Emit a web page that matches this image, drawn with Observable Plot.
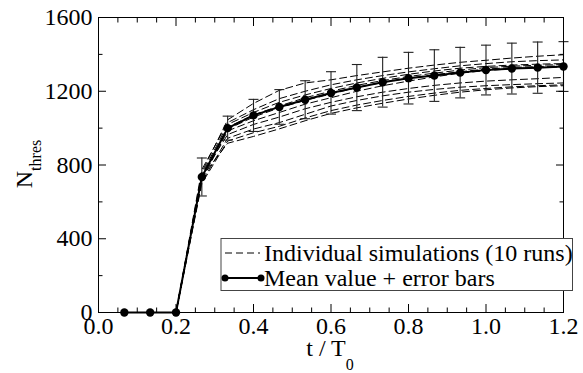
<!DOCTYPE html>
<html><head><meta charset="utf-8">
<script src="https://cdn.jsdelivr.net/npm/d3@7"></script>
<script src="https://cdn.jsdelivr.net/npm/@observablehq/plot@0.6"></script>
<style>body{margin:0;background:#fff} svg{display:block}</style>
</head><body><div id="chart"></div>
<script>
// time points t / T0
const tValues = [0.0667, 0.1333, 0.2, 0.2667, 0.3333, 0.4, 0.4667, 0.5333, 0.6, 0.6667, 0.7333, 0.8, 0.8667, 0.9333, 1.0, 1.0667, 1.1333, 1.2];
// mean value and error bar half-width
const meanN = [0, 0, 0, 735, 1000, 1069, 1115, 1154, 1191, 1220, 1249, 1271, 1285, 1301, 1315, 1323, 1328, 1334];
const errN  = [0, 0, 0, 103, 65, 87, 94, 103, 115, 125, 135, 140, 140, 137, 135, 138, 139, 135];
// individual simulations (10 runs)
const run1  = [0,0,0,760,1045,1134,1205,1245,1262,1285,1305,1325,1342,1357,1368,1380,1390,1398];
const run2  = [0,0,0,775,1030,1100,1160,1200,1235,1262,1285,1305,1322,1338,1350,1360,1366,1370];
const run3  = [0,0,0,750,1020,1085,1140,1180,1215,1245,1270,1292,1310,1325,1335,1342,1347,1350];
const run4  = [0,0,0,740,1005,1072,1120,1165,1200,1232,1258,1280,1298,1315,1328,1336,1341,1345];
const run5  = [0,0,0,730,995,1060,1110,1150,1185,1220,1248,1270,1290,1306,1320,1329,1334,1338];
const run6  = [0,0,0,720,985,1040,1085,1130,1165,1200,1230,1255,1278,1298,1312,1322,1328,1332];
const run7  = [0,0,0,745,965,1020,1060,1105,1140,1170,1195,1215,1232,1245,1255,1262,1268,1275];
const run8  = [0,0,0,710,945,995,1030,1075,1120,1150,1175,1195,1210,1222,1230,1236,1241,1245];
const run9  = [0,0,0,700,930,975,1010,1055,1095,1125,1150,1172,1190,1205,1215,1224,1230,1235];
const run10 = [0,0,0,735,918,955,996,1040,1080,1110,1135,1158,1178,1195,1208,1218,1225,1230];
const runs = [run1, run2, run3, run4, run5, run6, run7, run8, run9, run10];
// ticks
const xMajor = [0, 0.2, 0.4, 0.6, 0.8, 1.0, 1.2];
const xTickLabels = ["0.0", "0.2", "0.4", "0.6", "0.8", "1.0", "1.2"];
const xMinor = [0.05, 0.1, 0.15, 0.25, 0.3, 0.35, 0.45, 0.5, 0.55, 0.65, 0.7, 0.75, 0.85, 0.9, 0.95, 1.05, 1.1, 1.15];
const yMajor = [0, 400, 800, 1200, 1600];
const yTickLabels = ["0", "400", "800", "1200", "1600"];
const yMinor = [200, 600, 1000, 1400];
const legendLabels = ["Individual simulations (10 runs)", "Mean value + error bars"];

const runRows = runs.flatMap((r, k) => r.map((v, i) => ({run: k, t: tValues[i], n: v})));
const meanRows = tValues.map((t, i) => ({t, n: meanN[i], lo: meanN[i] - errN[i], hi: meanN[i] + errN[i], err: errN[i]}));
const barRows = meanRows.filter(d => d.err > 0);

const capSymbol = {draw(ctx) { ctx.moveTo(-5, 0); ctx.lineTo(5, 0); }};
const tickStyle = {stroke: "#000", strokeWidth: 1, fill: "none", label: null};
const SERIF = "'Liberation Serif', 'Times New Roman', serif";

const chart = Plot.plot({
  width: 583, height: 373,
  marginLeft: 98, marginRight: 20, marginTop: 17, marginBottom: 61,
  style: {fontSize: "24px", color: "#000", background: "#fff"},
  x: {domain: [0, 1.2]},
  y: {domain: [0, 1600]},
  marks: [
    Plot.line(runRows, {x: "t", y: "n", z: "run", stroke: "#000", strokeWidth: 1, strokeDasharray: "7,4"}),
    Plot.ruleX(barRows, {x: "t", y1: "lo", y2: "hi", stroke: "#222", strokeWidth: 1.1}),
    Plot.dot(barRows, {x: "t", y: "hi", symbol: capSymbol, stroke: "#222", fill: "none", strokeWidth: 1.1}),
    Plot.dot(barRows, {x: "t", y: "lo", symbol: capSymbol, stroke: "#222", fill: "none", strokeWidth: 1.1}),
    Plot.line(meanRows, {x: "t", y: "n", stroke: "#000", strokeWidth: 2}),
    Plot.dot(meanRows, {x: "t", y: "n", r: 4.2, fill: "#000", stroke: "none"}),
    Plot.frame({stroke: "#000", strokeWidth: 1}),
    // inward ticks on all four sides
    Plot.axisX(xMajor, {anchor: "bottom", tickSize: -8, ...tickStyle}),
    Plot.axisX(xMinor, {anchor: "bottom", tickSize: -4.5, ...tickStyle}),
    Plot.axisX(xMajor, {anchor: "top", tickSize: -8, ...tickStyle}),
    Plot.axisX(xMinor, {anchor: "top", tickSize: -4.5, ...tickStyle}),
    Plot.axisY(yMajor, {anchor: "left", tickSize: -8, ...tickStyle}),
    Plot.axisY(yMinor, {anchor: "left", tickSize: -4.5, ...tickStyle}),
    Plot.axisY(yMajor, {anchor: "right", tickSize: -8, ...tickStyle}),
    Plot.axisY(yMinor, {anchor: "right", tickSize: -4.5, ...tickStyle}),
    // tick labels
    Plot.axisX(xMajor, {anchor: "bottom", tickSize: 0, tickPadding: 4, label: null, fill: "#000", fontSize: 24,
      tickFormat: d => xTickLabels[xMajor.indexOf(d)]}),
    Plot.axisY(yMajor, {anchor: "left", tickSize: 0, tickPadding: 6, label: null, fill: "#000", fontSize: 24,
      tickFormat: d => yTickLabels[yMajor.indexOf(d)]})
  ]
});
document.getElementById("chart").appendChild(chart);

const svg = d3.select(chart);
// axis titles
const yl = svg.append("text")
  .attr("transform", "translate(32,164) rotate(-90)")
  .attr("text-anchor", "middle").attr("font-size", 24).attr("fill", "#000");
yl.append("tspan").text("N");
yl.append("tspan").attr("font-size", 16).attr("dy", 9).text("thres");

const xl = svg.append("text")
  .attr("x", 330).attr("y", 356)
  .attr("text-anchor", "middle").attr("font-size", 24).attr("fill", "#000");
xl.append("tspan").text("t / T");
xl.append("tspan").attr("font-size", 16).attr("dy", 14).text("0");

// legend
const lg = svg.append("g").attr("text-anchor", "start");
lg.append("rect").attr("x", 221).attr("y", 238.5).attr("width", 351.5).attr("height", 52)
  .attr("fill", "#fff").attr("stroke", "#444").attr("stroke-width", 1);
lg.append("line").attr("x1", 225).attr("x2", 260).attr("y1", 253).attr("y2", 253)
  .attr("stroke", "#000").attr("stroke-dasharray", "7,4");
lg.append("line").attr("x1", 225).attr("x2", 261).attr("y1", 278).attr("y2", 278)
  .attr("stroke", "#000").attr("stroke-width", 2);
lg.append("circle").attr("cx", 225).attr("cy", 278).attr("r", 3.5).attr("fill", "#000");
lg.append("circle").attr("cx", 261).attr("cy", 278).attr("r", 3.5).attr("fill", "#000");
lg.append("text").attr("x", 264).attr("y", 261).attr("font-size", 24).attr("fill", "#000").text(legendLabels[0]);
lg.append("text").attr("x", 264).attr("y", 286).attr("font-size", 24).attr("fill", "#000").text(legendLabels[1]);

// serif font everywhere
svg.style("font-family", SERIF);
svg.selectAll("g").style("font-family", SERIF);
svg.selectAll("text, tspan").style("font-family", SERIF).style("font-variant", "normal");
</script>
</body></html>
